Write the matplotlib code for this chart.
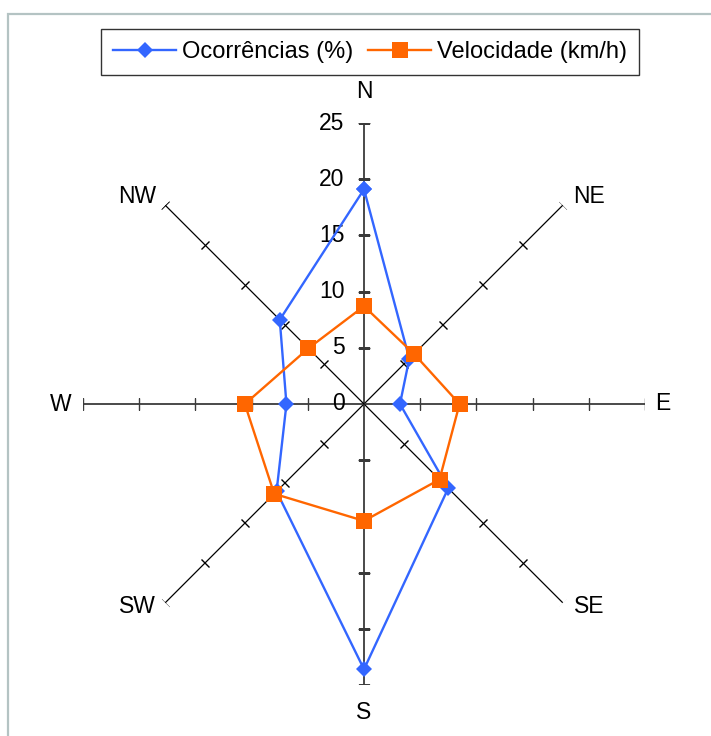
import numpy as np
import matplotlib
matplotlib.use("Agg")
import matplotlib.pyplot as plt
from matplotlib.markers import MarkerStyle
from matplotlib.transforms import Affine2D
from matplotlib.patches import Rectangle

plt.rcParams['font.family'] = ['Liberation Sans', 'DejaVu Sans']

# Wind directions and the two series
directions = ["N", "NE", "E", "SE", "S", "SW", "W", "NW"]
ocorrencias = [19.1, 5.7, 3.2, 10.6, 23.6, 11.0, 6.9, 10.6]   # %
velocidade = [8.7, 6.3, 8.5, 9.5, 10.4, 11.3, 10.6, 7.0]      # km/h
radial_ticks = [0, 5, 10, 15, 20, 25]
r_max = 25

BLUE = "#3366FF"
ORANGE = "#FF6600"

W_PX, H_PX, DPI = 711, 736, 100
fig = plt.figure(figsize=(W_PX / DPI, H_PX / DPI), dpi=DPI)
fig.patch.set_facecolor("white")

# chart-area border (left and top edges visible)
fig.patches.append(Rectangle((8 / W_PX, -0.05), 1.2, (H_PX - 14) / H_PX + 0.05,
                             transform=fig.transFigure, fill=False,
                             edgecolor="#b4c3c3", linewidth=1.6))

cx, cy, rad = 364, 404, 281
ax = fig.add_axes([(cx - rad) / W_PX, (H_PX - cy - rad) / H_PX,
                   2 * rad / W_PX, 2 * rad / H_PX], projection="polar")
ax.set_theta_zero_location("N")
ax.set_theta_direction(-1)
ax.set_ylim(0, r_max)
ax.grid(False)
ax.spines["polar"].set_visible(False)
ax.set_xticks([])
ax.set_yticks([])
ax.patch.set_alpha(0)

angles = np.deg2rad(np.arange(len(directions)) * 360 / len(directions))

FS = 16.5

# spokes with cross tick marks
for i, th in enumerate(angles):
    main = i % 2 == 0
    col = "#3a3a3a" if main else "black"
    ax.plot([th, th], [0, r_max], color=col, lw=1.3 if main else 0.9, zorder=1)
    deg = np.rad2deg(th)
    tick = MarkerStyle("_", transform=Affine2D().rotate_deg(-deg))
    ax.plot([th] * (len(radial_ticks) - 1), radial_ticks[1:], linestyle="none",
            marker=tick, markersize=8.5, markeredgewidth=1.0, color=col,
            zorder=1)

# radial value labels beside the north axis
for v in radial_ticks:
    ax.annotate(str(v), xy=(0, v), xytext=(-14, 0), textcoords="offset points",
                ha="right", va="center", fontsize=FS)

# direction labels outside the spokes
label_offsets = {"N": (0, 23), "NE": (19, 6), "E": (13, 0), "SE": (19, -3),
                 "S": (0, -20), "SW": (-20, -3), "W": (-16, 0), "NW": (-20, 6)}
for d, th in zip(directions, angles):
    ax.annotate(d, xy=(th, r_max), xytext=label_offsets[d],
                textcoords="offset points", ha="center", va="center",
                fontsize=FS, annotation_clip=False)

closed = np.append(angles, angles[0])
ax.plot(closed, ocorrencias + ocorrencias[:1], color=BLUE, lw=1.7,
        marker="D", markersize=8.5, markeredgewidth=0, label="Ocorrências (%)",
        zorder=3, clip_on=False)
ax.plot(closed, velocidade + velocidade[:1], color=ORANGE, lw=1.7,
        marker="s", markersize=11.5, markeredgewidth=0, label="Velocidade (km/h)",
        zorder=4, clip_on=False)

leg = fig.legend(loc="center", bbox_to_anchor=(370 / W_PX, 1 - 52 / H_PX),
                 ncol=2, frameon=True, fancybox=False, fontsize=17,
                 handlelength=2.7, handletextpad=0.25, columnspacing=0.6,
                 borderpad=0.5, borderaxespad=0)
leg.get_frame().set_edgecolor("black")
leg.get_frame().set_linewidth(1.0)

fig.savefig("out.png", dpi=DPI)
